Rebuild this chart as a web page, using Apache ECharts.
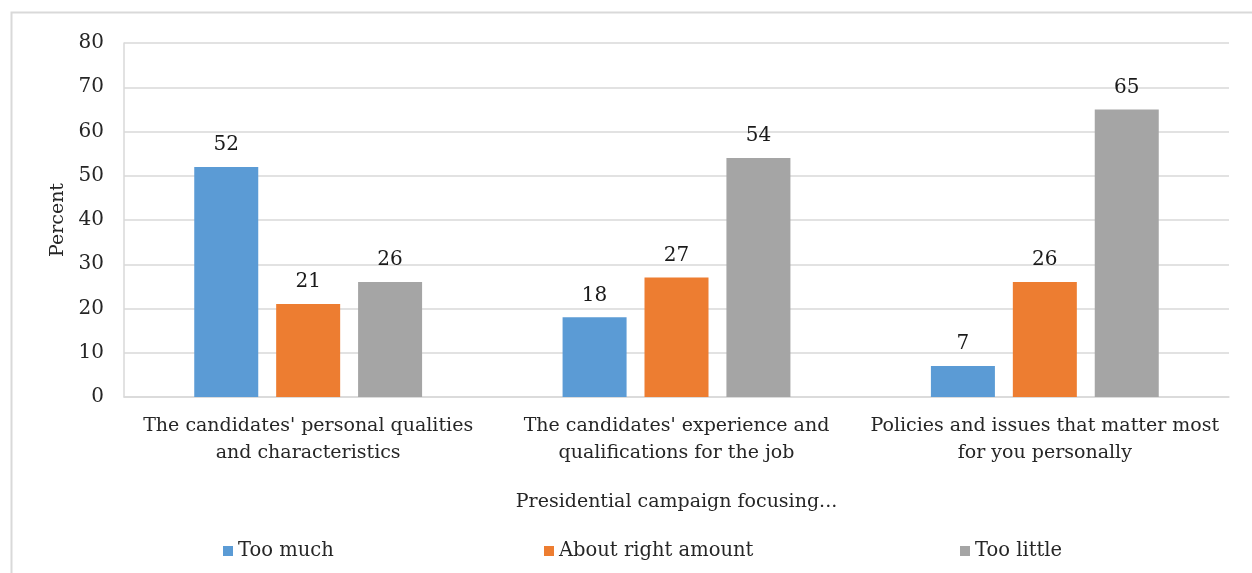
<!DOCTYPE html>
<html>
<head>
<meta charset="utf-8">
<script src="https://cdn.jsdelivr.net/npm/echarts@6/dist/echarts.min.js"></script>
<style>
  html, body { margin: 0; padding: 0; background: #fff; }
  #chart { width: 1252px; height: 573px; }
</style>
</head>
<body>
<div id="chart"></div>
<script>
// Survey: how much the presidential campaign focuses on each topic (percent)
const categories = [
  "The candidates' personal qualities\nand characteristics",
  "The candidates' experience and\nqualifications for the job",
  "Policies and issues that matter most\nfor you personally"
];
const seriesNames = ['Too much', 'About right amount', 'Too little'];
const tooMuch = [52, 18, 7];
const aboutRight = [21, 27, 26];
const tooLittle = [26, 54, 65];
const yTicks = [0, 10, 20, 30, 40, 50, 60, 70, 80];

const colors = ['#5b9bd5', '#ed7d31', '#a5a5a5'];
const font = '"DejaVu Serif", serif';
const textColor = '#262626';

const chart = echarts.init(document.getElementById('chart'), null, { renderer: 'canvas' });

const makeSeries = (name, data, color) => ({
  name: name,
  type: 'bar',
  data: data,
  barWidth: 64,
  barGap: '28%',
  itemStyle: { color: color },
  label: {
    show: true,
    position: 'top',
    distance: 12,
    color: '#1a1a1a',
    fontFamily: font,
    fontSize: 20
  }
});

const legendAt = (name, left, color) => ({
  data: [{ name: name, icon: 'rect', itemStyle: { color: color } }],
  left: left,
  top: 536,
  itemWidth: 10,
  itemHeight: 10,
  itemGap: 5,
  textStyle: { color: textColor, fontFamily: font, fontSize: 19.5, padding: [0, 0, 0, 0] },
  selectedMode: false
});

chart.setOption({
  animation: false,
  graphic: [{
    type: 'rect',
    shape: { x: 11.5, y: 12.5, width: 1260, height: 600 },
    style: { fill: 'none', stroke: '#d9d9d9', lineWidth: 2 },
    silent: true
  }],
  legend: [
    legendAt(seriesNames[0], 218, colors[0]),
    legendAt(seriesNames[1], 539, colors[1]),
    legendAt(seriesNames[2], 955, colors[2])
  ],
  grid: { left: 124, right: 23, top: 43, bottom: 176, containLabel: false },
  xAxis: {
    type: 'category',
    data: categories,
    name: 'Presidential campaign focusing...',
    nameLocation: 'middle',
    nameGap: 96,
    nameTextStyle: { color: textColor, fontFamily: font, fontSize: 19 },
    axisLine: { show: true, lineStyle: { color: '#d9d9d9', width: 1.5 } },
    axisTick: { show: false },
    axisLabel: {
      color: textColor,
      fontFamily: font,
      fontSize: 19,
      lineHeight: 27,
      margin: 16,
      interval: 0
    }
  },
  yAxis: {
    type: 'value',
    min: 0,
    max: 80,
    interval: 10,
    name: 'Percent',
    nameLocation: 'middle',
    nameGap: 56,
    nameRotate: 90,
    nameTextStyle: { color: textColor, fontFamily: font, fontSize: 19 },
    axisLine: { show: true, lineStyle: { color: '#d9d9d9', width: 1.5 } },
    axisTick: { show: false },
    splitLine: { lineStyle: { color: '#d9d9d9', width: 1.5 } },
    axisLabel: {
      color: textColor,
      fontFamily: font,
      fontSize: 20,
      margin: 20,
      formatter: v => (yTicks.indexOf(v) >= 0 ? String(v) : '')
    }
  },
  series: [
    makeSeries(seriesNames[0], tooMuch, colors[0]),
    makeSeries(seriesNames[1], aboutRight, colors[1]),
    makeSeries(seriesNames[2], tooLittle, colors[2])
  ]
});
</script>
</body>
</html>
